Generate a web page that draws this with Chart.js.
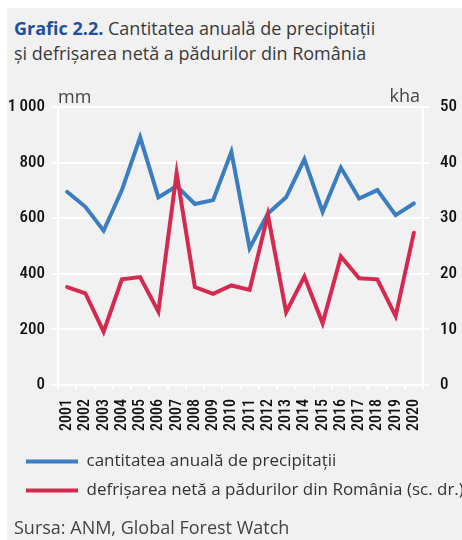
<!DOCTYPE html>
<html><head><meta charset="utf-8">
<script src="https://cdn.jsdelivr.net/npm/chart.js@4.4.1/dist/chart.umd.min.js"></script>
<style>
html,body{margin:0;padding:0;background:#fff;width:462px;height:540px;overflow:hidden;}
#panel{position:absolute;left:7px;top:8px;width:455px;height:532px;background:#f1f1f1;}
#title{position:absolute;left:14px;top:16px;font-family:"Open Sans",sans-serif;font-size:18px;line-height:25px;color:#3a3a3a;white-space:nowrap;}
#title b{color:#1f4fa0;font-weight:700;}
#wrap{position:absolute;left:0;top:70px;width:462px;height:470px;}
</style></head>
<body>
<div id="panel"></div>
<div id="title"><b>Grafic 2.2.</b> Cantitatea anuală de precipitații<br>și defrișarea netă a pădurilor din România</div>
<div id="wrap"><canvas id="c"></canvas></div>
<script>
const years = ['2001','2002','2003','2004','2005','2006','2007','2008','2009','2010','2011','2012','2013','2014','2015','2016','2017','2018','2019','2020'];
const precipitation = [695,641,555,701,891,675,716,651,665,839,492,617,675,812,623,782,671,701,611,653];
const deforestation = [17.6,16.5,9.6,19.0,19.4,13.2,38.1,17.6,16.4,17.9,17.1,30.6,13.1,19.5,11.1,23.1,19.2,19.0,12.4,27.4];
const leftTicks = [0,200,400,600,800,1000];
const leftTickLabels = ['0','200','400','600','800','1\u2009000'];
const rightTicks = [0,10,20,30,40,50];
const rightTickLabels = ['0','10','20','30','40','50'];
const seriesNames = ['cantitatea anuală de precipitații','defrișarea netă a pădurilor din România (sc. dr.)'];
const unitLeft = 'mm';
const unitRight = 'kha';
const sourceText = 'Sursa: ANM, Global Forest Watch';

const BLUE = '#3b7dc1';
const RED = '#d42a50';
const GRID = '#ffffff';
const tickFont = {family:'"Roboto Condensed",Roboto,sans-serif', size:17, weight:'500'};
const xFont = {family:'"Roboto Condensed",Roboto,sans-serif', size:16, weight:'500'};
const legendFont = {family:'"Open Sans",sans-serif', size:17};
const sourceFont = {family:'"Open Sans",sans-serif', size:18};

const unitsPlugin = {
  id:'units',
  afterLayout(chart){
    // indent legend and source like the reference panel
    if (chart.legend) chart.legend.left = 14;
    chart.boxes.forEach(b => { if (b.options && b.options.text === sourceText) b.left = 14; });
  },
  afterDraw(chart){
    const {ctx, chartArea} = chart;
    ctx.save();
    ctx.font = '18px "Open Sans", sans-serif';
    ctx.fillStyle = '#444';
    ctx.textBaseline = 'alphabetic';
    ctx.textAlign = 'left';
    ctx.fillText(unitLeft, chartArea.left, chartArea.top - 4);
    ctx.textAlign = 'right';
    ctx.fillText(unitRight, chartArea.right - 3, chartArea.top - 5);
    ctx.restore();
  }
};

new Chart(document.getElementById('c'), {
  type:'line',
  data:{
    labels: years,
    datasets:[
      {label:seriesNames[0], data:precipitation, yAxisID:'y', borderColor:BLUE, backgroundColor:BLUE, borderWidth:4, pointRadius:0, tension:0, borderCapStyle:'round', order:2},
      {label:seriesNames[1], data:deforestation, yAxisID:'y1', borderColor:RED, backgroundColor:RED, borderWidth:4, pointRadius:0, tension:0, borderCapStyle:'round', order:1}
    ]
  },
  options:{
    responsive:true, maintainAspectRatio:false, animation:false,
    layout:{padding:{top:37,left:0,right:0,bottom:0}},
    plugins:{
      tooltip:{enabled:false},
      legend:{
        position:'bottom', align:'start',
        labels:{usePointStyle:true, pointStyle:'line', pointStyleWidth:52, font:legendFont, color:'#333', padding:12,
          sort:(a,b)=>a.datasetIndex-b.datasetIndex}
      },
      subtitle:{display:true, text:sourceText, position:'bottom', align:'start', font:sourceFont, color:'#444', padding:{top:9.4,bottom:0}},
      title:{display:false}
    },
    scales:{
      x:{
        type:'category', offset:true,
        border:{display:false},
        grid:{offset:true, drawTicks:true, tickLength:4, lineWidth:2, tickColor:GRID,
          color:(c)=> (c.type==='scale' || c.index===0) ? GRID : 'rgba(0,0,0,0)'},
        ticks:{autoSkip:false, minRotation:90, maxRotation:90, padding:10, font:xFont, color:'#111'},
        afterFit:(a)=>{a.height=56;}
      },
      y:{
        position:'left', min:0, max:1000,
        afterBuildTicks:(a)=>{a.ticks = leftTicks.map(v=>({value:v}));},
        border:{display:false},
        grid:{color:GRID, lineWidth:2, drawTicks:true, tickLength:6, tickColor:GRID},
        ticks:{padding:7, font:tickFont, color:'#111', callback:(v)=>leftTickLabels[leftTicks.indexOf(v)]},
        afterFit:(a)=>{a.width=58;}
      },
      y1:{
        position:'right', min:0, max:50,
        afterBuildTicks:(a)=>{a.ticks = rightTicks.map(v=>({value:v}));},
        border:{display:false},
        grid:{drawOnChartArea:false, lineWidth:2, drawTicks:true, tickLength:7, tickColor:GRID, color:GRID},
        ticks:{padding:10, font:tickFont, color:'#111', callback:(v)=>rightTickLabels[rightTicks.indexOf(v)]},
        afterFit:(a)=>{a.width=39;}
      }
    }
  },
  plugins:[unitsPlugin]
});
</script>
</body></html>
